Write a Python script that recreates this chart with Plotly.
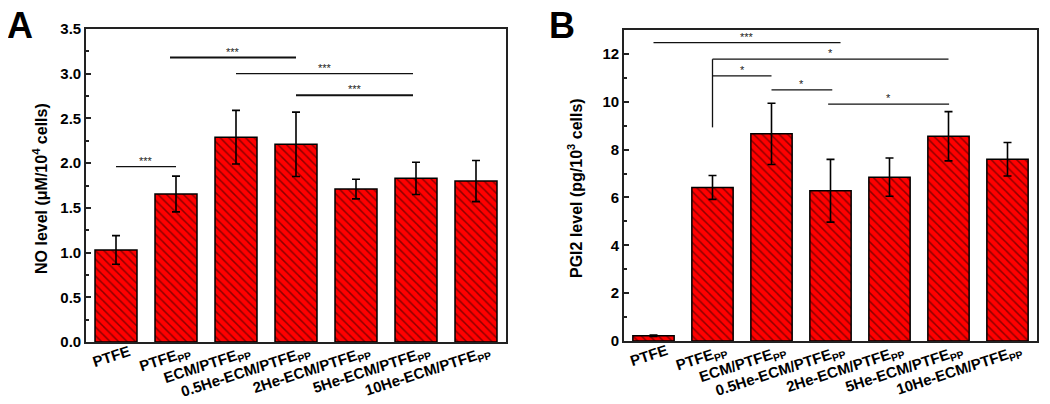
import plotly.graph_objects as go
from plotly.subplots import make_subplots

categories = [
    "PTFE",
    "PTFE<sub>PP</sub>",
    "ECM/PTFE<sub>PP</sub>",
    "0.5He-ECM/PTFE<sub>PP</sub>",
    "2He-ECM/PTFE<sub>PP</sub>",
    "5He-ECM/PTFE<sub>PP</sub>",
    "10He-ECM/PTFE<sub>PP</sub>",
]
no_mean = [1.03, 1.655, 2.29, 2.21, 1.71, 1.83, 1.80]
no_err = [0.16, 0.20, 0.30, 0.36, 0.11, 0.18, 0.23]
pgi2_mean = [0.22, 6.42, 8.66, 6.28, 6.85, 8.56, 7.60]
pgi2_err = [0.03, 0.50, 1.28, 1.31, 0.80, 1.03, 0.70]

# significance brackets: (from, to, level, label, width, drop_to)
no_sig = [
    (0, 1, 1.96, "***", 1.3, None),
    (0.9, 3, 3.18, "***", 2.0, None),
    (2, 4.95, 3.0, "***", 1.3, None),
    (3, 4.95, 2.76, "***", 2.0, None),
]
pgi2_sig = [
    (0, 3.17, 12.47, "***", 1.3, None),
    (1, 5, 11.78, "*", 1.3, 8.93),
    (1, 2, 11.08, "*", 1.3, None),
    (2, 3.03, 10.5, "*", 1.3, None),
    (2.96, 5.01, 9.9, "*", 1.3, None),
]

FONT = "Arial, Liberation Sans, sans-serif"
W, H, OFF = 1042, 396, 8  # page body keeps an 8px margin


def fx(px):
    return (px - OFF) / W


def fy(py):
    return 1 - (py - OFF) / H


xpos = list(range(len(categories)))

fig = make_subplots(rows=1, cols=2)


def add_panel(col, mean, err, sig, xref, yref):
    fig.add_trace(
        go.Bar(
            x=xpos,
            y=mean,
            width=0.7,
            error_y=dict(type="data", array=err, color="black", thickness=1.6, width=4),
            marker=dict(
                color="#ff0000",
                line=dict(color="black", width=1.5),
                pattern=dict(shape="\\", fgcolor="#1a0000", bgcolor="#ff0000", size=6, solidity=0.25),
            ),
            showlegend=False,
        ),
        row=1,
        col=col,
    )
    for x0, x1, lvl, label, lw, drop in sig:
        fig.add_shape(type="line", xref=xref, yref=yref, x0=x0, x1=x1, y0=lvl, y1=lvl,
                      line=dict(color="#111", width=lw))
        if drop is not None:
            fig.add_shape(type="line", xref=xref, yref=yref, x0=x0, x1=x0, y0=drop, y1=lvl,
                          line=dict(color="#111", width=lw))
        fig.add_annotation(x=(x0 + x1) / 2, y=lvl, xref=xref, yref=yref, text=label,
                           showarrow=False, yanchor="bottom", yshift=-2,
                           font=dict(family=FONT, size=11, color="#222"))


add_panel(1, no_mean, no_err, no_sig, "x", "y")
add_panel(2, pgi2_mean, pgi2_err, pgi2_sig, "x2", "y2")

xaxis_common = dict(
    tickvals=xpos,
    ticktext=categories,
    range=[-0.5, 6.5],
    tickangle=-18,
    ticks="",
    ticklabelshift=13,
    ticklabelstandoff=-6,
    showline=True,
    linecolor="#222",
    linewidth=1.6,
    mirror=True,
    automargin=False,
    tickfont=dict(family=FONT, size=15, color="black", weight="bold"),
    showgrid=False,
    zeroline=False,
)
yaxis_common = dict(
    ticks="inside",
    ticklen=5,
    tickwidth=1.5,
    tickcolor="#222",
    showline=True,
    linecolor="#222",
    linewidth=1.6,
    mirror=True,
    automargin=False,
    tickfont=dict(family=FONT, size=15, color="black", weight="bold"),
    showgrid=False,
    zeroline=False,
)

fig.update_layout(
    width=W,
    height=H,
    margin=dict(l=0, r=0, t=0, b=0, autoexpand=False),
    plot_bgcolor="white",
    paper_bgcolor="white",
    xaxis=dict(domain=[fx(86), fx(506)], **xaxis_common),
    xaxis2=dict(domain=[fx(624), fx(1037)], **xaxis_common),
    yaxis=dict(domain=[fy(342), fy(29)], range=[0, 3.5], dtick=0.5, tickformat=".1f",
               minor=dict(dtick=0.25, ticks="inside", ticklen=3, tickcolor="#222"), **yaxis_common),
    yaxis2=dict(domain=[fy(341), fy(30)], range=[0, 13], dtick=2,
                minor=dict(dtick=1, ticks="inside", ticklen=3, tickcolor="#222"), **yaxis_common),
)

# axis titles and panel letters
fig.add_annotation(x=fx(28), y=fy(189), xref="paper", yref="paper", textangle=-90,
                   text="NO level (μM/10<sup>4</sup> cells)", showarrow=False,
                   font=dict(family=FONT, size=16, color="black", weight="bold"))
fig.add_annotation(x=fx(575), y=fy(188), xref="paper", yref="paper", textangle=-90,
                   text="PGI2 level (pg/10<sup>3</sup> cells)", showarrow=False,
                   font=dict(family=FONT, size=16, color="black", weight="bold"))
fig.add_annotation(x=fx(5), y=fy(25), xref="paper", yref="paper", text="A",
                   showarrow=False, xanchor="left", yanchor="middle",
                   font=dict(family=FONT, size=36, color="black", weight="bold"))
fig.add_annotation(x=fx(547), y=fy(25), xref="paper", yref="paper", text="B",
                   showarrow=False, xanchor="left", yanchor="middle",
                   font=dict(family=FONT, size=36, color="black", weight="bold"))

fig.write_html("out.html")
